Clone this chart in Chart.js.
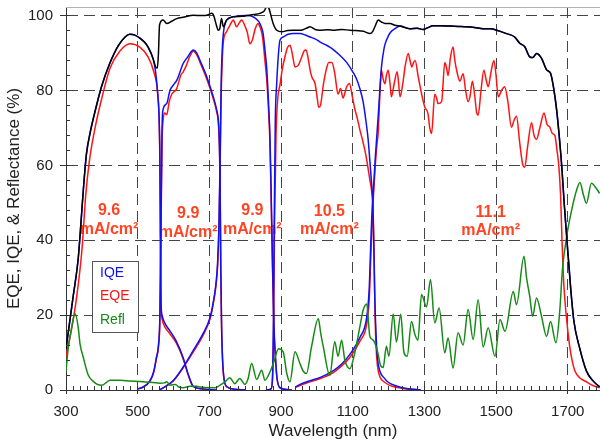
<!DOCTYPE html>
<html><head><meta charset="utf-8">
<script src="https://cdn.jsdelivr.net/npm/chart.js@4.4.1/dist/chart.umd.min.js"></script>
<style>html,body{margin:0;padding:0;background:#fff}</style>
</head><body>
<canvas id="c" width="600" height="447" style="display:block;width:600px;height:447px"></canvas>
<script>
// ---------- tick labels ----------
const xTicks = [300, 500, 700, 900, 1100, 1300, 1500, 1700];
const yTicks = [0, 20, 40, 60, 80, 100];

// ---------- series: [wavelength nm, value %] ----------
const IQE_J1 = [[300,11],[310,18],[320,25],[334,35],[342,45],[348,53],[357,63],[368,69],[380,74],[399,81],[422,87.2],[446,92],[465,94.3],[478,95],[492,94.8],[506,94],[520,92.8],[529,91.6],[543,88.5],[550,85],[556,79],[560,72],[562,62],[563.5,42],[565,24],[568,20],[575,18],[590,15.8],[608,13],[627,8.6],[641,4.2],[655,1],[680,0.3],[720,0]];
const EQE_J1 = [[300,9],[315,16],[330,25],[345,38],[355,52],[365,61],[380,69.5],[400,78],[423,86],[450,90.5],[479,92.5],[506,91.6],[529,89],[545,85],[555,80],[560,72],[562,60],[563.5,40],[565,23],[568,19],[575,17],[590,15],[608,12.5],[627,8.3],[641,4],[655,0.9],[680,0.3],[720,0]];

const IQE_J2 = [[500,0.3],[511,0.6],[534,2.4],[545,5],[552,8.6],[558,12],[562,20],[565,45],[568,70],[571,75],[581,76.5],[590,80],[600,81.5],[609,82.7],[627,87.2],[640,89],[655,90.8],[665,90],[674,88],[693,83.6],[711,78.3],[720,75],[725,72],[728,66],[730,55],[732,32],[734,18],[737,8],[741,3],[750,0.8],[770,0.2],[800,0]];
const EQE_J2 = [[500,0.3],[511,0.6],[534,2.3],[545,4.8],[552,8.3],[558,11.5],[562,19],[565,42],[568,66],[571,72],[576,74],[581,73.5],[588,77],[595,79],[609,80.5],[620,84],[627,85],[635,86.5],[645,89],[655,90.5],[665,89.5],[674,87.5],[693,83],[711,77.8],[720,74.5],[725,71.5],[728,65],[730,54],[732,31],[734,17],[737,7.5],[741,2.8],[750,0.8],[770,0.2],[800,0]];

const IQE_J3 = [[560,0],[570,0.5],[598,2.4],[626,6],[654,10.4],[682,15],[702,19.4],[710,23],[718,28],[723,34],[727,45],[730,62],[733,82],[736,91],[739,95.2],[748,98.8],[767,99.7],[804,100],[822,99.7],[834,98.8],[841,97.9],[850,95.2],[856,90],[860,86],[866,75],[869,68],[872,55],[876,35],[880,18],[885,8],[889,3],[897,0.6],[930,0]];
const EQE_J3 = [[560,0],[570,0.5],[598,2.3],[626,5.8],[654,10],[682,14.5],[702,19],[710,22.5],[718,27.5],[723,33],[727,44],[730,60],[733,79],[736,88],[739,93],[748,95.7],[758,97.5],[767,98.8],[776,97],[783,98],[790,98.8],[799,97.3],[806,95.5],[813,92.5],[820,93.5],[828,96.5],[836,97.9],[841,97],[846,95.5],[850,93],[855,88],[860,83],[866,73],[869,66],[872,53],[876,34],[880,17],[885,7.5],[889,3],[897,0.6],[930,0]];

const IQE_J4 = [[860,0],[872,0.3],[876,3],[879,20],[881,45],[884,72],[888,82],[893,90],[897,93.4],[906,94.3],[920,95],[934,95.2],[953,95.2],[968,94.8],[981,94.3],[995,93.8],[1008,93],[1022,92.3],[1036,91.6],[1050,90.6],[1064,89.4],[1083,87.5],[1100,85],[1111,83],[1120,80.5],[1129,77],[1136,72.5],[1143,67],[1148,61],[1152,56],[1156,50],[1159,38],[1161,27],[1165,15],[1169,8.6],[1176,5],[1187,3.3],[1200,2],[1224,1],[1250,0.4],[1290,0]];
const EQE_J4 = [[860,0],[872,0.3],[876,2.5],[879,15],[882,45],[886,68],[891,78],[897,81.5],[904,86],[911,89],[918,91.5],[925,92.1],[931,90],[939,86.3],[948,86.7],[958,89],[964,90.5],[970,90.8],[975,89],[981,85.5],[986,83.6],[995,81.8],[1001,78],[1005,75.5],[1010,76],[1018,81.5],[1026,85.5],[1033,87.5],[1042,87.5],[1050,84.5],[1059,79],[1066,80.5],[1073,78],[1083,81],[1091,81.9],[1099,78.3],[1106,75],[1113,72.5],[1120,69.5],[1128,66.5],[1134,64],[1139,61.5],[1148,56],[1153,53],[1157,48],[1160,35],[1162,22],[1165,12],[1169,6.5],[1176,3.5],[1190,2],[1210,1],[1240,0.4],[1290,0]];

const IQE_J5 = [[940,0.8],[953,1.5],[981,2.5],[1008,3.3],[1045,5.1],[1070,7],[1092,9.5],[1120,14],[1139,19.4],[1146,27],[1150,38],[1154,48],[1158,54],[1163,62],[1171,73],[1180,86],[1188,91.5],[1194,93.4],[1205,95.5],[1218,96.5],[1232,97.2],[1259,96.5],[1280,96.6],[1296,96.3],[1310,96.8],[1324,97.3],[1345,97.3],[1371,97.2],[1395,97.1],[1418,97],[1440,96.8],[1464,96.5],[1485,96.5],[1502,96.1],[1529,95.2],[1552,94.3],[1566,92.6],[1580,91.7],[1594,89],[1603,88.8],[1613,89.9],[1627,88.6],[1641,85.5],[1652,84.6],[1660,81],[1669,74.8],[1678,65.9],[1684,58.8],[1690,50],[1697,41],[1708,27.4],[1717,18.5],[1733,11.3],[1752,5.1],[1770,2.5],[1789,0.8]];
const EQE_J5 = [[940,0.7],[953,1.2],[981,2.2],[1008,3],[1045,4.6],[1070,6.5],[1092,8.7],[1120,13],[1139,17.5],[1146,24],[1150,34],[1154,44],[1158,52],[1163,60],[1168,66],[1171,68.5],[1174,75],[1176,79.2],[1180,85.4],[1185,83],[1190,81.8],[1194,84],[1199,85.4],[1204,82],[1208,78.3],[1216,82],[1224,85],[1228,82],[1232,78.3],[1240,82],[1246,86.3],[1255,89.9],[1260,88],[1265,86.3],[1270,87.5],[1274,88],[1283,83.6],[1292,79.2],[1301,75.6],[1310,73.8],[1315,70],[1320,68.5],[1329,79],[1334,78],[1338,76.5],[1348,77],[1357,87.5],[1362,86],[1366,84],[1373,89],[1380,91.6],[1385,88],[1390,85.4],[1399,82.5],[1408,84.5],[1415,80],[1422,77],[1427,78.3],[1434,82.5],[1440,79],[1446,74],[1450,73.4],[1458,80],[1466,85.4],[1472,83],[1478,81],[1486,85],[1494,88],[1500,84],[1506,78.3],[1515,80],[1524,81],[1533,77],[1543,70.2],[1550,72],[1557,73.1],[1566,66],[1575,60],[1580,59.5],[1588,65],[1599,71.4],[1606,68],[1613,67],[1622,70],[1634,74],[1642,71],[1650,70.2],[1657,68.5],[1664,68],[1670,64],[1675,60],[1680,52],[1684,40],[1688,30],[1693,22.9],[1700,16],[1706,11.3],[1713,7.5],[1720,5.1],[1734,3.2],[1748,2.4],[1770,1.2],[1789,0.6]];

const TOTAL = [[300,11],[310,18],[320,25],[334,35],[342,45],[348,53],[357,63],[368,69],[380,74],[399,81],[422,87.2],[446,92],[465,94.3],[478,95],[492,94.8],[506,94],[520,92.8],[529,91.6],[543,88.5],[550,86.3],[555,86],[558,90],[561,97.5],[571,98.8],[581,97.9],[595,98.5],[609,99.2],[630,99.6],[655,100.1],[680,100],[693,100.1],[707,100.6],[713,99.8],[718,98],[725,96.1],[729,96.5],[734,99.2],[739,97],[748,98.8],[767,99.7],[790,99.8],[804,100],[825,100.3],[841,100.6],[853,101.2],[861,102.5],[866,102],[872,100],[878,97.9],[888,96.1],[902,95.7],[918,96],[934,96.1],[955,96.1],[970,96.6],[981,97],[995,96.3],[1008,96.1],[1030,96.2],[1050,96.1],[1070,96.3],[1092,96.1],[1110,96],[1130,95.8],[1148,95.2],[1156,95.8],[1164,97.5],[1171,98.8],[1180,98.3],[1190,97.9],[1204,97.9],[1218,97.4],[1232,97.2],[1259,96.5],[1280,96.6],[1296,96.3],[1310,96.8],[1324,97.3],[1345,97.3],[1371,97.2],[1395,97.1],[1418,97],[1440,96.8],[1464,96.5],[1485,96.5],[1502,96.1],[1529,95.2],[1552,94.3],[1566,92.6],[1580,91.7],[1594,89],[1603,88.8],[1613,89.9],[1627,88.6],[1641,85.5],[1652,84.6],[1660,81],[1669,74.8],[1678,65.9],[1684,58.8],[1690,50],[1697,41],[1708,27.4],[1717,18.5],[1733,11.3],[1752,5.1],[1770,2.5],[1789,0.8]];

const REFL = [[300,5],[306,11],[316,16.8],[325,20.4],[334,16.8],[339,12.4],[348,8.8],[362,4],[376,2.3],[390,1.4],[400,1.3],[423,2.6],[451,2.6],[479,2.4],[506,2.3],[543,2],[562,1.8],[575,1.9],[581,2.2],[590,1.3],[605,1.5],[615,0.8],[627,0.6],[646,1],[665,1],[674,0.8],[702,0.6],[716,0.6],[730,1.3],[744,2.2],[757,3.3],[771,1.7],[785,3.1],[799,1.5],[808,3],[818,7.1],[832,2.8],[846,5.3],[855,2.6],[869,4.8],[880,7.5],[893,11],[906,10.2],[916,4.4],[925,2.2],[939,10.2],[953,7],[962,5],[971,4.4],[985,11.5],[1004,19],[1011,15],[1018,11.5],[1036,3.9],[1050,12.9],[1059,9],[1069,13.3],[1078,8],[1092,5.7],[1106,10],[1120,16.9],[1129,21.3],[1139,23],[1148,14.2],[1155,13.5],[1162,12.5],[1170,10],[1178,6.5],[1185,6],[1194,11.7],[1201,9],[1213,20.3],[1222,12.8],[1234,20.2],[1243,10],[1252,9],[1264,18.3],[1273,15],[1282,13.3],[1292,25.5],[1306,22.2],[1317,29.5],[1329,17.9],[1341,21.9],[1357,9.9],[1366,13.9],[1380,5.9],[1394,15.3],[1408,12],[1422,21.5],[1436,13.5],[1450,24.1],[1464,11.5],[1478,16.6],[1497,9],[1511,18.8],[1525,15.7],[1548,26.3],[1557,22.8],[1578,35.7],[1585,30],[1594,25],[1602,19.7],[1613,24.6],[1627,19.6],[1641,14.3],[1652,18.3],[1667,12.6],[1678,21.5],[1685,32],[1697,41],[1711,48.1],[1725,53.5],[1734,55.4],[1744,52],[1752,49.9],[1766,55.2],[1780,53.8],[1789,52.5]];

// ---------- text ----------
const legendLabels = ['IQE', 'EQE', 'Refl'];
const currentValues = ['9.6', '9.9', '9.9', '10.5', '11.1'];
const currentUnit = 'mA/cm²';
const currentAt = [[420, 47.8], [641, 47.1], [820, 47.8], [1035, 47.7], [1485, 47.4]]; // label anchors (nm, %)

const C_BLUE = '#1010f0', C_RED = '#ff1414', C_GREEN = '#168a16', C_BLACK = '#000000', C_LABEL = '#ff4422';

Chart.defaults.font.family = "'Liberation Sans', Arial, Helvetica, sans-serif";
Chart.defaults.color = '#222';

const toXY = arr => arr.map(p => ({x: p[0], y: p[1]}));
const ds = (data, color, order) => ({data: toXY(data), borderColor: color, borderWidth: 1.5, pointRadius: 0, fill: false, cubicInterpolationMode: 'monotone', order});

const datasets = [
  ds(TOTAL, C_BLACK, 0),
  ds(REFL, C_GREEN, 1),
  ds(IQE_J1, C_BLUE, 2), ds(IQE_J2, C_BLUE, 2), ds(IQE_J3, C_BLUE, 2), ds(IQE_J4, C_BLUE, 2), ds(IQE_J5, C_BLUE, 3),
  ds(EQE_J1, C_RED, 4), ds(EQE_J2, C_RED, 4), ds(EQE_J3, C_RED, 4), ds(EQE_J4, C_RED, 4), ds(EQE_J5, C_RED, 4)
];

const decor = {
  id: 'decor',
  beforeDatasetsDraw(chart) {
    const {ctx, scales: {x, y}} = chart;
    ctx.save();
    ctx.fillStyle = C_LABEL;
    ctx.font = "bold 16px 'Liberation Sans', Arial, sans-serif";
    ctx.textAlign = 'center';
    ctx.textBaseline = 'middle';
    currentValues.forEach((t, i) => {
      const px = x.getPixelForValue(currentAt[i][0]);
      const py = y.getPixelForValue(currentAt[i][1]);
      ctx.fillText(t, px, py);
      ctx.fillText(currentUnit, px, py + 18.5);
    });
    ctx.restore();
  },
  afterDraw(chart) {
    const {ctx, chartArea: a, scales: {x, y}} = chart;
    const al = p => Math.round(p - 0.5) + 0.5;
    ctx.save();
    // top frame line
    ctx.strokeStyle = '#b4b4b4'; ctx.lineWidth = 1;
    ctx.beginPath(); ctx.moveTo(a.left, a.top + 0.5); ctx.lineTo(a.right, a.top + 0.5); ctx.stroke();
    // inward minor ticks
    ctx.strokeStyle = '#333';
    ctx.beginPath();
    for (let v = xTicks[0]; v <= x.max; v += 20) {
      const px = al(x.getPixelForValue(v));
      ctx.moveTo(px, a.bottom); ctx.lineTo(px, a.bottom - 4);
    }
    for (let v = yTicks[0]; v <= y.max; v += 4) {
      const py = al(y.getPixelForValue(v));
      ctx.moveTo(a.left, py); ctx.lineTo(a.left + 4, py);
    }
    ctx.stroke();
    // legend box
    const bx = a.left + 26, by = 261, bw = 47, bh = 72;
    ctx.fillStyle = '#fff';
    ctx.fillRect(bx, by, bw, bh);
    ctx.strokeStyle = '#555';
    ctx.strokeRect(bx + 0.5, by + 0.5, bw - 1, bh - 1);
    ctx.font = "14px 'Liberation Sans', Arial, sans-serif";
    ctx.textAlign = 'left'; ctx.textBaseline = 'middle';
    const cols = [C_BLUE, C_RED, C_GREEN];
    legendLabels.forEach((t, i) => {
      ctx.fillStyle = cols[i];
      ctx.fillText(t, bx + 8, by + 12 + i * 23.5);
    });
    ctx.restore();
  }
};

new Chart(document.getElementById('c'), {
  type: 'line',
  data: {datasets},
  plugins: [decor],
  options: {
    responsive: false, animation: false, devicePixelRatio: 1,
    layout: {padding: {top: 7, right: 0, left: 0, bottom: 0}},
    plugins: {legend: {display: false}, tooltip: {enabled: false}},
    scales: {
      x: {
        type: 'linear', min: 300, max: 1790,
        afterBuildTicks: s => { s.ticks = xTicks.map(v => ({value: v})); },
        afterFit: s => { s.height = 57; s.paddingLeft = 0; s.paddingRight = 0; },
        grid: {color: '#444', lineWidth: 1, drawTicks: true, tickLength: 4, tickColor: '#333', tickWidth: 1},
        border: {display: true, color: '#333', width: 1, dash: [11, 6]},
        ticks: {color: '#222', font: {size: 15}, padding: 9, maxRotation: 0, autoSkip: false, callback: v => String(v)},
        title: {display: true, text: 'Wavelength (nm)', color: '#222', font: {size: 17}, padding: {top: 0, bottom: 5}}
      },
      y: {
        type: 'linear', min: 0, max: 102.3,
        afterBuildTicks: s => { s.ticks = yTicks.map(v => ({value: v})); },
        afterFit: s => { s.width = 66; s.paddingTop = 0; s.paddingBottom = 0; },
        grid: {color: '#444', lineWidth: 1, drawTicks: true, tickLength: 6, tickColor: '#333', tickWidth: 1},
        border: {display: true, color: '#333', width: 1, dash: [11, 6]},
        ticks: {color: '#222', font: {size: 15}, padding: 7, callback: v => String(v)},
        title: {display: true, text: 'EQE, IQE, & Reflectance (%)', color: '#222', font: {size: 17}, padding: {top: 4, bottom: 0}}
      }
    }
  }
});
</script>
</body></html>
